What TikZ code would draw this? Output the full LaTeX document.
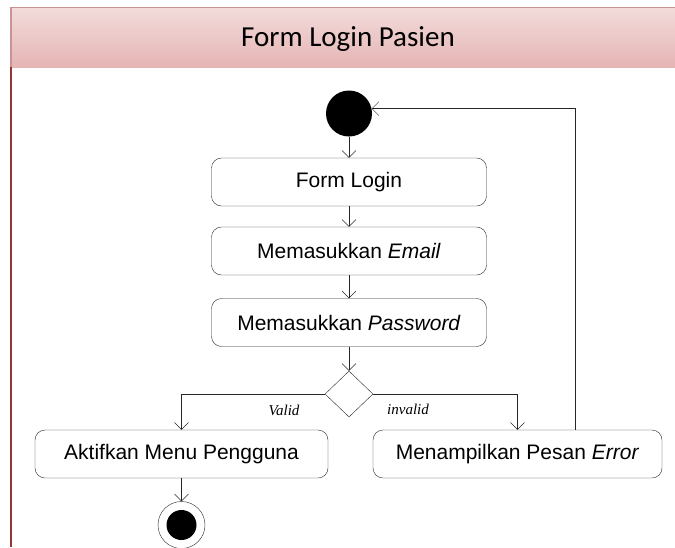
\documentclass[tikz,border=0pt]{standalone}
\usepackage{fontspec}
\setmainfont{Liberation Sans}
\newfontfamily\titlefont{Carlito}
\newfontfamily\guardfont{Liberation Serif}
\usetikzlibrary{positioning, arrows.meta, shapes.geometric}
\definecolor{laneborder}{HTML}{943634}
\definecolor{laneedge}{HTML}{C89392}
\definecolor{lanetop}{HTML}{F2DCDB}
\definecolor{lanebottom}{HTML}{E5B5B4}
\definecolor{flowline}{HTML}{262626}

\tikzset{
  activity/.style={draw=flowline, rounded corners=10pt, minimum height=48pt,
    minimum width=275pt, font=\fontsize{21}{25}\selectfont},
  startnode/.style={circle, fill=black, minimum size=46pt, inner sep=0pt},
  endnode/.style={circle, draw=flowline, minimum size=47pt, inner sep=0pt,
    path picture={\fill[black] (path picture bounding box.center) circle (15pt);}},
  decision/.style={diamond, draw=flowline, minimum width=48pt,
    minimum height=46pt, inner sep=0pt},
  guard/.style={font=\guardfont\itshape\fontsize{15}{18}\selectfont},
}

\begin{document}
\begin{tikzpicture}[x=1pt,y=-1pt,>={Straight Barb[length=7pt,width=14pt]},on grid]
    \useasboundingbox (0,0) rectangle (675,547);
    % swimlane header
    \shade[top color=lanetop, bottom color=lanebottom] (10,7) rectangle (675,67);
    \draw[laneedge, line width=1.5pt] (10,7.5) -- (675,7.5);
    \draw[laneedge, line width=2pt] (11,7) -- (11,67);
    \draw[laneborder, line width=2pt] (11,67) -- (11,547);
    \node[font=\titlefont\fontsize{29}{33}\selectfont] (title) at (348,39) {Form Login Pasien};

    % activities
    \node[startnode] (start) at (349,113.5) {};
    \node[activity] (login) [below=68.5pt of start] {Form Login};
    \node[activity] (email) [below=69pt of login] {Memasukkan \textit{Email}};
    \node[activity] (password) [below=71.5pt of email] {Memasukkan \textit{Password}};
    \node[decision] (check) [below=71.5pt of password] {};
    \node[activity, minimum width=293pt] (menu) [below left=60pt and 167.5pt of check] {Aktifkan Menu Pengguna};
    \node[activity, minimum width=289pt] (error) [below right=60pt and 168.5pt of check] {Menampilkan Pesan \textit{Error}};
    \node[endnode] (finish) [below=71pt of menu] {};

    % guards
    \node[guard] (valid) at (284,410) {Valid};
    \node[guard] (invalid) at (408,409) {invalid};
    \coordinate (loopback) at (575,108);

    \path[->, draw=flowline]
      (start) edge (login)
      (login) edge (email)
      (email) edge (password)
      (password) edge (check)
      (menu) edge (finish);
    \draw[->, flowline] (check.west) -| (menu.north);
    \draw[->, flowline] (check.east) -| (error.north);
    \draw[->, flowline] (error.north -| loopback) |- (start.12);
  \end{tikzpicture}
\end{document}
